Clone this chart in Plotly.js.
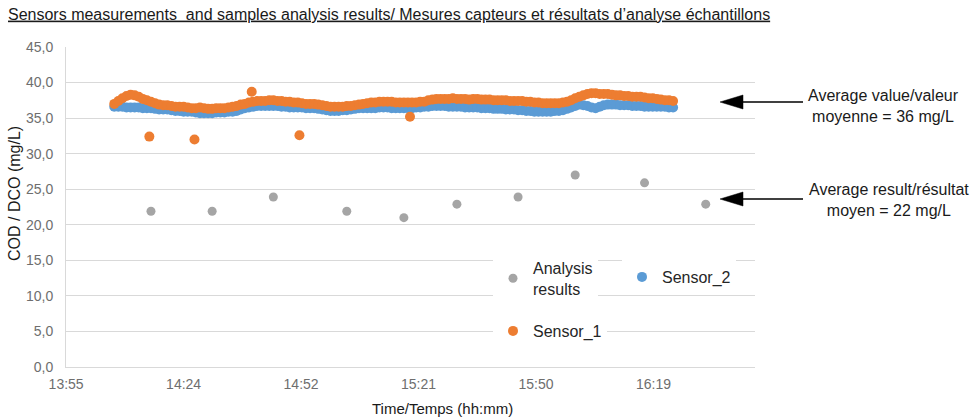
<!DOCTYPE html>
<html>
<head>
<meta charset="utf-8">
<script src="https://cdn.plot.ly/plotly-3.0.1.min.js"></script>
<style>html,body{margin:0;padding:0;background:#fff;}#chart{width:970px;height:419px;}</style>
</head>
<body>
<div id="chart"></div>
<script>
// ---- data ----
const chartTitle = 'Sensors measurements  and samples analysis results/ Mesures capteurs et résultats d’analyse échantillons';
const yAxisTitle = 'COD / DCO (mg/L)';
const xAxisTitle = 'Time/Temps (hh:mm)';

// continuous sensor readings, one every minute from 14:07
const sensorStart = '14:07';
const sensorStepMinutes = 1;
const sensor1Values = [
  37.0,37.4,37.8,38.1,38.3,38.2,38.0,37.7,37.5,37.3,
  37.1,36.9,36.8,36.8,36.7,36.6,36.6,36.6,36.5,36.4,
  36.4,36.5,36.4,36.3,36.3,36.4,36.4,36.4,36.5,36.6,
  36.7,36.9,37.0,37.2,37.3,37.4,37.4,37.4,37.5,37.5,
  37.4,37.4,37.3,37.3,37.2,37.2,37.1,37.0,37.0,37.0,
  36.9,36.8,36.7,36.6,36.6,36.6,36.6,36.7,36.7,36.8,
  36.9,37.0,37.1,37.2,37.2,37.3,37.3,37.3,37.3,37.2,
  37.2,37.2,37.2,37.2,37.2,37.3,37.3,37.5,37.6,37.7,
  37.7,37.7,37.7,37.8,37.7,37.7,37.7,37.6,37.7,37.7,
  37.6,37.6,37.6,37.5,37.5,37.5,37.5,37.4,37.4,37.4,
  37.4,37.3,37.3,37.2,37.2,37.1,37.1,37.1,37.1,37.1,
  37.2,37.3,37.5,37.8,38.0,38.2,38.4,38.5,38.5,38.4,
  38.4,38.4,38.3,38.2,38.2,38.1,38.1,38.0,38.0,38.0,
  37.9,37.8,37.8,37.7,37.6,37.5,37.5,37.4
];
const sensor2Values = [
  36.6,36.6,36.6,36.5,36.5,36.5,36.5,36.4,36.4,36.4,
  36.3,36.2,36.2,36.2,36.1,36.0,36.0,35.9,35.9,35.9,
  35.8,35.7,35.7,35.7,35.7,35.8,35.8,35.8,35.9,35.9,
  36.0,36.2,36.4,36.5,36.6,36.7,36.7,36.7,36.7,36.7,
  36.7,36.6,36.6,36.5,36.5,36.5,36.5,36.4,36.4,36.4,
  36.3,36.2,36.1,36.0,36.0,36.0,36.1,36.1,36.2,36.3,
  36.4,36.4,36.4,36.4,36.4,36.5,36.5,36.5,36.4,36.4,
  36.4,36.4,36.4,36.4,36.5,36.5,36.6,36.6,36.7,36.7,
  36.7,36.7,36.6,36.6,36.6,36.6,36.5,36.5,36.5,36.5,
  36.4,36.4,36.4,36.3,36.3,36.3,36.2,36.2,36.2,36.1,
  36.1,36.0,36.0,35.9,35.9,35.9,35.9,35.9,36.0,36.0,
  36.1,36.3,36.5,36.7,36.9,36.8,36.7,36.5,36.4,36.6,
  36.8,36.9,36.9,36.9,36.8,36.8,36.8,36.7,36.7,36.7,
  36.6,36.6,36.6,36.6,36.6,36.6,36.5,36.5
];
// isolated Sensor_1 readings
const sensor1ExtraTimes = ['14:15:36','14:26:40','14:40:42','14:52:24','15:19:30'];
const sensor1ExtraValues = [32.4, 32.0, 38.7, 32.6, 35.2];

// laboratory analysis results
const analysisTimes = ['14:16','14:31','14:46','15:04','15:18','15:31','15:46','16:00','16:17','16:32'];
const analysisValues = [21.9, 21.9, 23.9, 21.9, 21.0, 22.9, 23.9, 27.0, 25.9, 22.9];

const seriesNames = ['Analysis<br>results', 'Sensor_2', 'Sensor_1'];
const noteAverageValue = 'Average value/valeur<br>moyenne = 36 mg/L';
const noteAverageResult = 'Average result/résultat<br>moyen = 22 mg/L';

// ---- helpers ----
const DAY = '2020-01-01 ';
function stamp(t){ return DAY + (t.length === 5 ? t + ':00' : t); }
function pad(n){ return (n < 10 ? '0' : '') + n; }
function bandTimes(start, step, n){
  const p = start.split(':');
  const m0 = (+p[0]) * 60 + (+p[1]);
  const out = [];
  for (let i = 0; i < n; i++){
    const m = m0 + i * step;
    out.push(DAY + pad(Math.floor(m / 60)) + ':' + pad(m % 60) + ':00');
  }
  return out;
}
const s1Times = bandTimes(sensorStart, sensorStepMinutes, sensor1Values.length)
  .concat(sensor1ExtraTimes.map(stamp));
const s1Vals = sensor1Values.concat(sensor1ExtraValues);
const s2Times = bandTimes(sensorStart, sensorStepMinutes, sensor2Values.length);

// layout geometry (pixels)
const W = 970, H = 419, ML = 66, MR = 215, MT = 47, MB = 52;
const PW = W - ML - MR, PH = H - MT - MB;
const px = x => (x - ML) / PW;
const py = y => (H - MB - y) / PH;

const FONT = 'Liberation Sans, Arial, sans-serif';

const traces = [
  { type:'scatter', mode:'markers', name: seriesNames[1], x: s2Times, y: sensor2Values,
    marker:{ color:'#5b9bd5', size:10 }, legend:'legend2' },
  { type:'scatter', mode:'markers', name: seriesNames[2], x: s1Times, y: s1Vals,
    marker:{ color:'#ed7d31', size:10 }, legend:'legend3' },
  { type:'scatter', mode:'markers', name: seriesNames[0], x: analysisTimes.map(stamp), y: analysisValues,
    marker:{ color:'#a5a5a5', size:9 }, legend:'legend' }
];

const legendBase = { bgcolor:'#ffffff', borderwidth:0, font:{ family:FONT, size:16, color:'#262626' },
  xanchor:'left', yanchor:'top', orientation:'v' };

function arrow(yTip){
  return [
    { type:'path', xref:'paper', yref:'paper',
      path: 'M' + px(720) + ',' + py(yTip) + ' L' + px(743) + ',' + py(yTip - 7) + ' L' + px(743) + ',' + py(yTip + 7) + ' Z',
      fillcolor:'#000', line:{ color:'#000', width:0.5 } },
    { type:'line', xref:'paper', yref:'paper', x0: px(742), x1: px(803), y0: py(yTip), y1: py(yTip),
      line:{ color:'#000', width:1.3 } }
  ];
}

const layout = {
  width: W, height: H,
  margin: { l: ML, r: MR, t: MT, b: MB, pad: 0 },
  paper_bgcolor:'#ffffff', plot_bgcolor:'#ffffff',
  separators: ', ',
  font: { family: FONT, color:'#262626' },
  title: { text: '<u>' + chartTitle + '</u>', xref:'container', yref:'container',
    x: 8 / W, xanchor:'left', y: 1 - 14 / H, yanchor:'middle',
    font: { family: FONT, size: 16, color:'#1a1a1a' } },
  xaxis: {
    type:'date',
    range: [DAY + '13:55:10', DAY + '16:44:05'],
    tick0: DAY + '13:55:12', dtick: 28.8 * 60 * 1000, tickformat:'%H:%M',
    showgrid:false, zeroline:false, showline:true, linecolor:'#d9d9d9', linewidth:1,
    ticks:'', ticklabelstandoff: 4,
    tickfont:{ family: FONT, size: 14, color:'#6e6e6e' }
  },
  yaxis: {
    range:[0, 45], tick0:0, dtick:5, tickformat:'.1f',
    showgrid:true, gridcolor:'#d9d9d9', gridwidth:1, zeroline:false,
    showline:true, linecolor:'#d9d9d9', linewidth:1,
    ticks:'', ticklabelstandoff: 9,
    tickfont:{ family: FONT, size: 14, color:'#6e6e6e' }
  },
  legend: Object.assign({}, legendBase, { x: px(493), y: py(251) }),
  legend2: Object.assign({}, legendBase, { x: px(622), y: py(260) }),
  legend3: Object.assign({}, legendBase, { x: px(493), y: py(314) }),
  annotations: [
    { text: yAxisTitle, xref:'paper', yref:'paper', x: px(14), y: py(194), textangle:-90,
      showarrow:false, xanchor:'center', yanchor:'middle', font:{ family:FONT, size:16, color:'#1a1a1a' } },
    { text: xAxisTitle, xref:'paper', yref:'paper', x: px(442), y: py(408),
      showarrow:false, xanchor:'center', yanchor:'middle', font:{ family:FONT, size:15, color:'#1a1a1a' } },
    { text: noteAverageValue, xref:'paper', yref:'paper', x: px(883), y: py(106),
      showarrow:false, xanchor:'center', yanchor:'middle', align:'center', font:{ family:FONT, size:16, color:'#1a1a1a' } },
    { text: noteAverageResult, xref:'paper', yref:'paper', x: px(889), y: py(200),
      showarrow:false, xanchor:'center', yanchor:'middle', align:'center', font:{ family:FONT, size:16, color:'#1a1a1a' } }
  ],
  shapes: arrow(102).concat(arrow(199)),
  showlegend: true
};

Plotly.newPlot('chart', traces, layout, { staticPlot:true, displayModeBar:false });
</script>
</body>
</html>
